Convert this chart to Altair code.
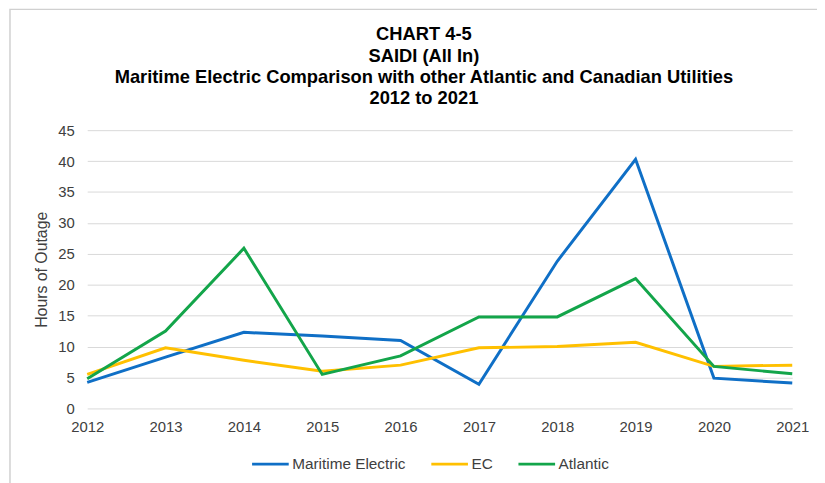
import altair as alt
import pandas as pd

years = [2012, 2013, 2014, 2015, 2016, 2017, 2018, 2019, 2020, 2021]
maritime = [4.2, 8.3, 12.3, 11.7, 11.0, 3.9, 23.8, 40.3, 4.9, 4.1]
ec = [5.5, 9.8, 7.8, 6.0, 7.0, 9.8, 10.0, 10.7, 6.8, 7.0]
atlantic = [4.8, 12.5, 25.9, 5.5, 8.5, 14.8, 14.8, 21.0, 6.8, 5.6]

series_names = ["Maritime Electric", "EC", "Atlantic"]
series_colors = ["#0f6fc6", "#ffc000", "#13a54a"]

rows = []
for name, vals in zip(series_names, [maritime, ec, atlantic]):
    for y, v in zip(years, vals):
        rows.append({"Year": str(y), "Series": name, "Value": v})
df = pd.DataFrame(rows)

W, H = 712, 281

lines = alt.Chart(df).mark_line(strokeWidth=3).encode(
    x=alt.X("Year:O", scale=alt.Scale(padding=0),
            axis=alt.Axis(title=None, labelAngle=0, ticks=False, domain=False,
                          labelPadding=11, labelFontSize=15, labelColor="#404040")),
    y=alt.Y("Value:Q", scale=alt.Scale(domain=[0, 45]),
            axis=alt.Axis(title="Hours of Outage", values=list(range(0, 50, 5)),
                          ticks=False, domain=False, labelPadding=13,
                          labelFontSize=15, labelColor="#404040",
                          titleFontSize=16, titleFontWeight="normal", titleColor="#404040",
                          titlePadding=8, gridColor="#d9d9d9")),
    color=alt.Color("Series:N",
                    scale=alt.Scale(domain=series_names, range=series_colors),
                    legend=alt.Legend(title=None, orient="none", direction="horizontal",
                                      legendX=165, legendY=317,
                                      symbolType="stroke", symbolSize=1369,
                                      symbolStrokeWidth=3, labelFontSize=15.5,
                                      labelColor="#404040", columnPadding=19,
                                      labelOffset=2)),
    order=alt.Order("Series:N")
)

border = alt.Chart(alt.Data(values=[{"a": 1}])).mark_rect(
    fill="white", fillOpacity=0, stroke="#d0d0d0", strokeWidth=1.5
).encode(
    x=alt.value(-78), x2=alt.value(745), y=alt.value(-122), y2=alt.value(370)
)

chart = alt.layer(border, lines).properties(
    width=W, height=H,
    title=alt.TitleParams(
        text=["CHART 4-5", "SAIDI (All In)",
              "Maritime Electric Comparison with other Atlantic and Canadian Utilities",
              "2012 to 2021"],
        anchor="middle", fontSize=18.5, fontWeight="bold", color="#000000",
        lineHeight=21.5, offset=-100, dx=-16
    ),
    autosize=alt.AutoSizeParams(type="none"),
    padding={"left": 80, "top": 121, "right": 25, "bottom": 80}
).configure(
    font="Liberation Sans"
).configure_view(stroke=None)

chart.save("out.html", embed_options={"renderer": "svg", "actions": False})
